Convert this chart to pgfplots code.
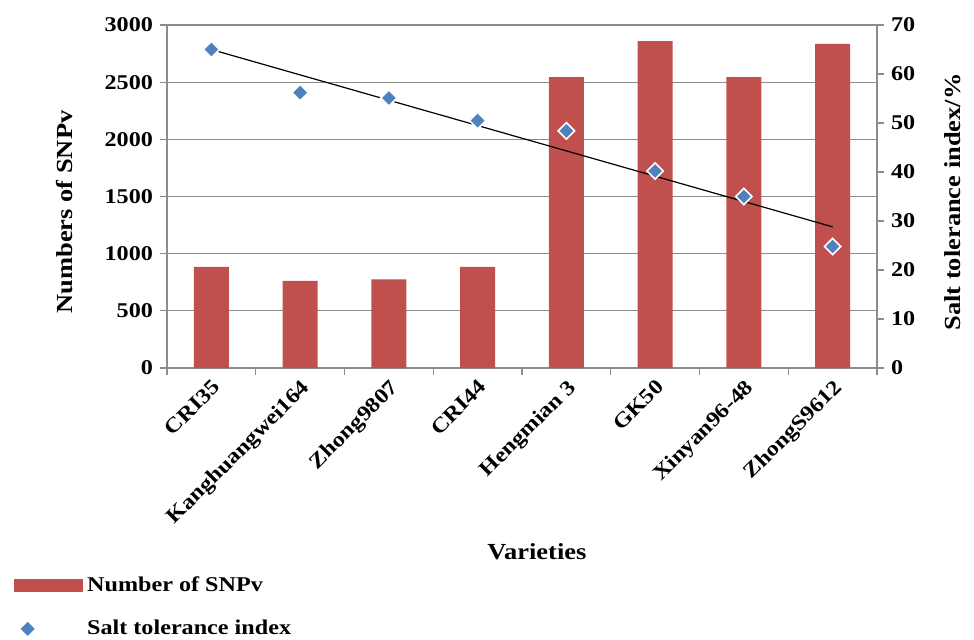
\documentclass[border=0pt]{standalone}
\usepackage{fontspec}
\setmainfont{Liberation Serif}[FakeStretch=1.15]
\usepackage{pgfplots}
\usepackage{pgfplotstable}
\pgfplotsset{compat=1.18}

\definecolor{barred}{HTML}{C0504D}
\definecolor{stiblue}{HTML}{4F81BD}
\definecolor{axisgray}{HTML}{8C8C8C}

\newcommand\tickfont{\fontsize{10.5}{12}\selectfont\bfseries}
\newcommand\titlefont{\fontsize{11.5}{13}\selectfont\bfseries}

% SNPv counts and salt tolerance index per variety
\pgfplotstableread{
idx snpv sti
0 885 65.0
1 762 56.2
2 776 55.1
3 885 50.5
4 2545 48.4
5 2858 40.2
6 2545 35.0
7 2836 24.8
}\datatable

\pgfplotsset{
  common/.style={
    at={(0,0)}, anchor=south west,
    scale only axis, width=355pt, height=171.5pt,
    xmin=-0.5, xmax=7.5,
    axis line style={axisgray, line width=0.6pt},
    tick align=outside,
    major tick length=3.5pt, minor tick length=3.5pt,
    every tick/.style={axisgray, line width=0.6pt},
    /pgf/number format/assume math mode=true,
    /pgf/number format/set thousands separator={},
    yticklabel style={font=\tickfont},
  },
}

\begin{document}
\begin{tikzpicture}
% bars: number of SNPv (left axis)
\begin{axis}[
  common,
  ymin=0, ymax=3000, ytick={0,500,...,3000},
  axis y line*=left, axis x line*=bottom,
  xtick={0,...,7},
  xticklabels={CRI35,Kanghuangwei164,Zhong9807,CRI44,Hengmian 3,GK50,Xinyan96-48,ZhongS9612},
  minor xtick={-0.5,0.5,...,7.5},
  major x tick style={draw=none},
  minor x tick style={axisgray, line width=0.6pt},
  ymajorgrids, grid style={axisgray, line width=0.6pt},
  xticklabel style={rotate=45, anchor=north east, font=\tickfont, inner sep=1pt},
  ylabel={Numbers of SNPv},
  ylabel style={font=\titlefont, at={(axis description cs:-0.1437,0.455)}, anchor=center},
  xlabel={Varieties},
  xlabel style={font=\titlefont, at={(axis description cs:0.521,-0.536)}, anchor=center},
]
\addplot[ybar, bar width=17.5pt, fill=barred, draw=none] table[x=idx, y=snpv]{\datatable};
\end{axis}
% markers and trend: salt tolerance index (right axis)
\begin{axis}[
  common,
  ymin=0, ymax=70, ytick={0,10,...,70},
  axis y line*=right, axis x line=none,
  ylabel={Salt tolerance index/\%},
  ylabel style={font=\titlefont, at={(axis description cs:1.107,0.484)}, anchor=center},
  legend style={at={(axis description cs:-0.224,-0.583)}, anchor=north west,
    draw=none, fill=none, font=\tickfont, row sep=9pt, column sep=0pt,
    cells={anchor=west}},
]
\addlegendimage{legend image code/.code={\fill[barred] (0pt,-3pt) rectangle (34pt,3pt);}}
\addlegendentry{Number of SNPv}
\addplot[only marks, mark=square*, mark size=2.9pt,
  mark options={fill=stiblue, draw=white, line width=0.8pt, rotate=45},
  legend image code/.code={\path (0pt,0pt) (34pt,0pt);
    \fill[stiblue] (3.3pt,0pt) -- (6.5pt,3.2pt) -- (9.7pt,0pt) -- (6.5pt,-3.2pt) -- cycle;}]
  table[x=idx, y=sti]{\datatable};
\addlegendentry{Salt tolerance index}
\addplot[black, line width=0.6pt, forget plot]
  table[x=idx, y={create col/linear regression={y=sti}}]{\datatable};
\end{axis}
\pgfresetboundingbox
\useasboundingbox (-83.5pt,-135.5pt) rectangle (403.5pt,184pt);
\end{tikzpicture}
\end{document}
